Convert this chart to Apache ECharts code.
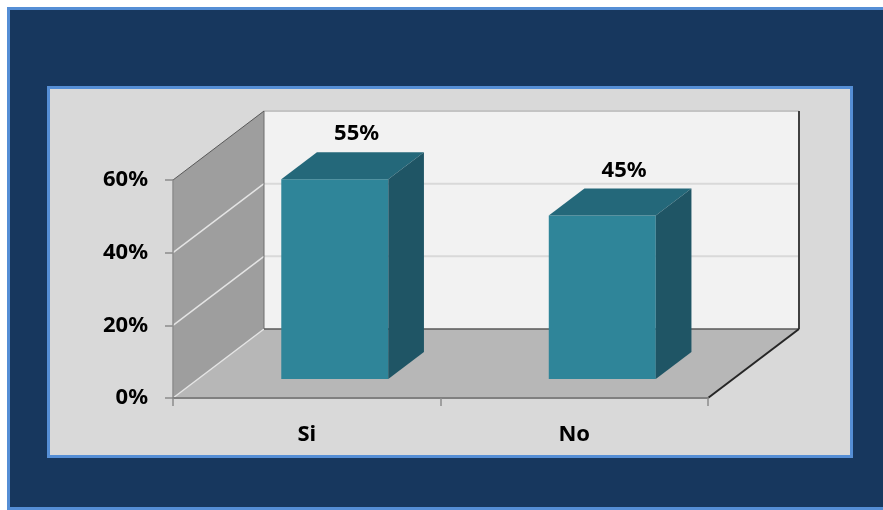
<!DOCTYPE html>
<html>
<head>
<meta charset="utf-8">
<script src="https://cdn.jsdelivr.net/npm/echarts@6/dist/echarts.min.js"></script>
<style>
html,body{margin:0;padding:0;background:#ffffff;}
#chart{width:883px;height:510px;}
</style>
</head>
<body>
<div id="chart"></div>
<script>
// ---- data ----
const categories = ['Si', 'No'];
const values = [55, 45];
const yTicks = [0, 20, 40, 60];

// ---- 3D look parameters ----
const DEPTH_DX = 91, DEPTH_DY = -69;   // wall depth offset
const BAR_F0 = 0.275, BAR_F1 = 0.667;  // bar front/back depth fractions
const BAR_W = 0.4;                     // bar width as fraction of band

const chart = echarts.init(document.getElementById('chart'), null, {renderer: 'canvas'});
const FONT = '"Noto Sans", "Open Sans", sans-serif';

function wallsRender(params, api) {
  const cs = params.coordSys;
  const x0 = cs.x, y0 = cs.y, W = cs.width, H = cs.height;
  const yb = y0 + H, xr = x0 + W;
  const dx = DEPTH_DX, dy = DEPTH_DY;
  const children = [];
  // back wall
  children.push({type: 'rect', shape: {x: x0 + dx, y: y0 + dy, width: W, height: H},
    style: {fill: '#F2F2F2'}});
  // side wall
  children.push({type: 'polygon', shape: {points: [[x0, yb], [x0, y0], [x0 + dx, y0 + dy], [x0 + dx, yb + dy]]},
    style: {fill: '#9E9E9E'}});
  // floor
  children.push({type: 'polygon', shape: {points: [[x0, yb], [x0 + dx, yb + dy], [xr + dx, yb + dy], [xr, yb]]},
    style: {fill: '#B7B7B7'}});
  // gridlines
  yTicks.forEach(function (t) {
    const y = api.coord([0, t])[1];
    if (t > 0 && t < yTicks[yTicks.length - 1]) {
      children.push({type: 'line', shape: {x1: x0 + dx, y1: y + dy, x2: xr + dx, y2: y + dy},
        style: {stroke: '#D9D9D9', lineWidth: 2}});
    }
    if (t < yTicks[yTicks.length - 1]) {
      children.push({type: 'line', shape: {x1: x0, y1: y, x2: x0 + dx, y2: y + dy},
        style: {stroke: '#E4E4E4', lineWidth: 1.5}});
    }
  });
  // back wall top edge
  children.push({type: 'line', shape: {x1: x0 + dx, y1: y0 + dy, x2: xr + dx, y2: y0 + dy},
    style: {stroke: '#C4C4C4', lineWidth: 2}});
  // back wall left edge
  children.push({type: 'line', shape: {x1: x0 + dx, y1: y0 + dy, x2: x0 + dx, y2: yb + dy},
    style: {stroke: '#6E6E6E', lineWidth: 1}});
  // back wall bottom edge
  children.push({type: 'line', shape: {x1: x0 + dx, y1: yb + dy, x2: xr + dx, y2: yb + dy},
    style: {stroke: '#595959', lineWidth: 1.5}});
  // back wall right edge
  children.push({type: 'line', shape: {x1: xr + dx, y1: y0 + dy, x2: xr + dx, y2: yb + dy},
    style: {stroke: '#404040', lineWidth: 2}});
  // side wall top edge
  children.push({type: 'line', shape: {x1: x0, y1: y0, x2: x0 + dx, y2: y0 + dy},
    style: {stroke: '#595959', lineWidth: 1}});
  // floor right edge
  children.push({type: 'line', shape: {x1: xr, y1: yb, x2: xr + dx, y2: yb + dy},
    style: {stroke: '#262626', lineWidth: 2}});
  return {type: 'group', children: children};
}

function barRender(params, api) {
  const cat = api.value(0);
  const val = api.value(1);
  const base = api.coord([cat, 0]);
  const top = api.coord([cat, val]);
  const band = api.size([1, 0])[0];
  const w = band * BAR_W;
  const fx = BAR_F0 * DEPTH_DX, fy = BAR_F0 * DEPTH_DY;
  const bx = (BAR_F1 - BAR_F0) * DEPTH_DX, by = (BAR_F1 - BAR_F0) * DEPTH_DY;
  const L = base[0] - w / 2 + fx + 3, R = L + w;
  const B = base[1] + fy, T = top[1] + fy;
  return {type: 'group', children: [
    {type: 'polygon', shape: {points: [[L, B], [R, B], [R, T], [L, T]]},
      style: {fill: '#2F8599'}},
    {type: 'polygon', shape: {points: [[L, T], [R, T], [R + bx, T + by], [L + bx, T + by]]},
      style: {fill: '#24687A'}},
    {type: 'polygon', shape: {points: [[R, T], [R, B], [R + bx, B + by], [R + bx, T + by]]},
      style: {fill: '#1F5565'}},
    {type: 'text', x: (L + R) / 2 + bx / 2 + 4, y: T + by - 18,
      style: {text: val + '%', fill: '#000', font: 'bold 22px ' + FONT, align: 'center', verticalAlign: 'middle'}}
  ]};
}

const option = {
  animation: false,
  backgroundColor: '#ffffff',
  graphic: [
    {type: 'rect', z: -100, shape: {x: 8.5, y: 8.5, width: 884, height: 500},
      style: {fill: '#17375E', stroke: '#558ED5', lineWidth: 3}},
    {type: 'rect', z: -99, shape: {x: 48.5, y: 87.5, width: 803, height: 369},
      style: {fill: '#D9D9D9', stroke: '#558ED5', lineWidth: 3}}
  ],
  grid: {left: 173, top: 180, width: 535, height: 218, containLabel: false},
  xAxis: {
    type: 'category',
    data: categories,
    boundaryGap: true,
    axisLine: {show: true, lineStyle: {color: '#808080', width: 2}},
    axisTick: {show: true, length: 8, alignWithLabel: false, lineStyle: {color: '#8C8C8C', width: 1.5}},
    axisLabel: {color: '#000', fontWeight: 'bold', fontSize: 22, fontFamily: FONT, margin: 26},
    splitLine: {show: false}
  },
  yAxis: {
    type: 'value',
    min: 0, max: 60, interval: 20,
    axisLine: {show: true, lineStyle: {color: '#8C8C8C', width: 1.5}},
    axisTick: {show: true, length: 8, lineStyle: {color: '#8C8C8C', width: 1.5}},
    axisLabel: {color: '#000', fontWeight: 'bold', fontSize: 22, fontFamily: FONT, margin: 25,
      formatter: '{value}%'},
    splitLine: {show: false}
  },
  series: [
    {type: 'custom', z: -1, renderItem: wallsRender, data: [[0, 0]], silent: true},
    {type: 'custom', z: 5, renderItem: barRender,
      data: categories.map(function (c, i) { return [i, values[i]]; })}
  ]
};
chart.setOption(option);
</script>
</body>
</html>
